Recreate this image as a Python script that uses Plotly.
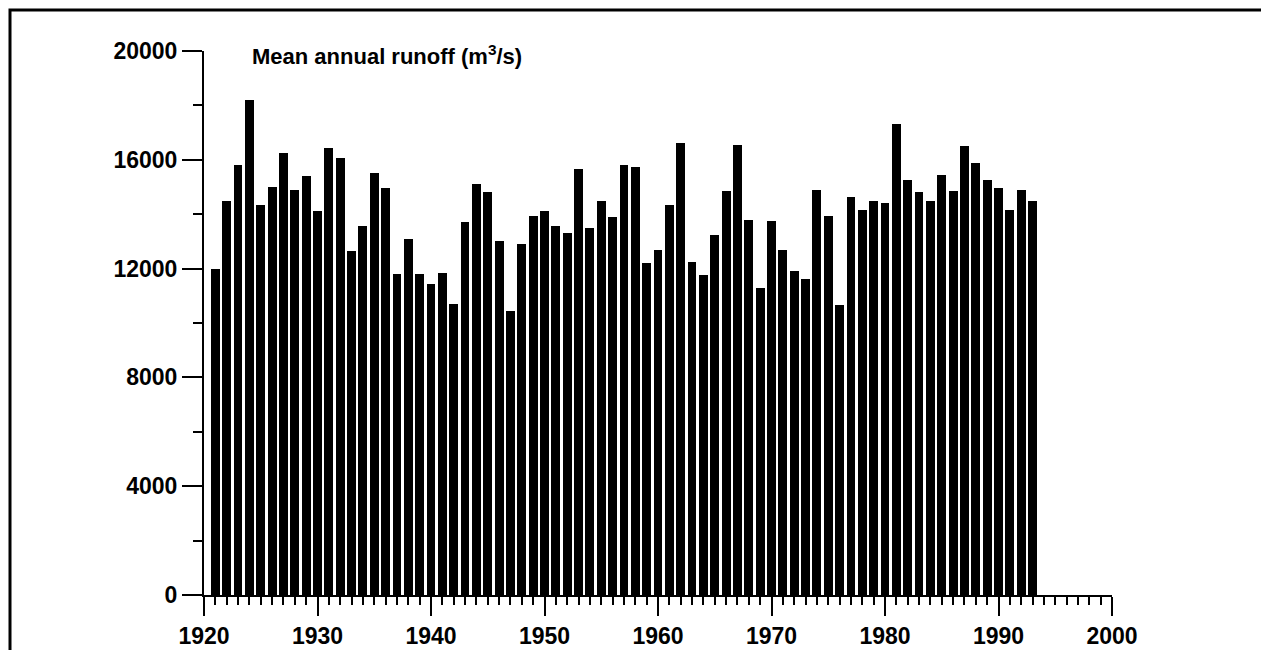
import plotly.graph_objects as go

# Mean annual runoff by year (m3/s)
years = list(range(1921, 1994))
runoff = [
    12000, 14500, 15800, 18200, 14350, 15000, 16250, 14900, 15400, 14100,  # 1921-1930
    16450, 16050, 12650, 13550, 15500, 14950, 11800, 13100, 11800, 11450,  # 1931-1940
    11850, 10700, 13700, 15100, 14800, 13000, 10450, 12900, 13950, 14100,  # 1941-1950
    13550, 13300, 15650, 13500, 14500, 13900, 15800, 15750, 12200, 12700,  # 1951-1960
    14350, 16600, 12250, 11750, 13250, 14850, 16550, 13800, 11300, 13750,  # 1961-1970
    12700, 11900, 11600, 14900, 13950, 10650, 14650, 14150, 14500, 14400,  # 1971-1980
    17300, 15250, 14800, 14500, 15450, 14850, 16500, 15900, 15250, 14950,  # 1981-1990
    14150, 14900, 14500,                                                   # 1991-1993
]

x_ticks = [1920, 1930, 1940, 1950, 1960, 1970, 1980, 1990, 2000]
y_ticks = [0, 4000, 8000, 12000, 16000, 20000]

FONT = "Liberation Sans, Arial, sans-serif"

fig = go.Figure()
fig.add_trace(go.Bar(
    x=years, y=runoff, width=0.78,
    marker=dict(color="#000000", line=dict(width=0)),
    showlegend=False,
))

fig.update_layout(
    width=1261, height=650,
    margin=dict(l=204, r=149, t=51, b=55, pad=0, autoexpand=False),
    paper_bgcolor="white", plot_bgcolor="white",
    bargap=0,
    font=dict(family=FONT, color="black"),
    xaxis=dict(
        range=[1920, 2000], tickmode="array", tickvals=x_ticks,
        ticktext=[f"<b>{v}</b>" for v in x_ticks],
        ticks="outside", ticklen=19, tickwidth=2, tickcolor="black",
        minor=dict(dtick=1, tick0=1920, ticks="outside", ticklen=8,
                   tickwidth=1.5, tickcolor="black", showgrid=False),
        showline=True, linecolor="black", linewidth=2,
        showgrid=False, zeroline=False, automargin=False,
        tickfont=dict(size=23, family=FONT, color="black"),
    ),
    yaxis=dict(
        range=[0, 20000], tickmode="array", tickvals=y_ticks,
        ticktext=[f"<b>{v}</b>" for v in y_ticks],
        ticks="outside", ticklen=20, tickwidth=2, tickcolor="black",
        minor=dict(dtick=2000, tick0=0, ticks="outside", ticklen=9,
                   tickwidth=1.5, tickcolor="black", showgrid=False),
        showline=True, linecolor="black", linewidth=2,
        showgrid=False, zeroline=False, automargin=False,
        tickfont=dict(size=23, family=FONT, color="black"),
    ),
    annotations=[dict(
        text="<b>Mean annual runoff (m<sup>3</sup>/s)</b>",
        xref="paper", yref="paper", x=0.051, y=0.992,
        xanchor="left", yanchor="middle", showarrow=False,
        font=dict(size=22, family=FONT, color="black"),
    )],
)

# Outer frame: a border whose right and bottom edges run past the page
plot_w = 1261 - 204 - 149
plot_h = 650 - 51 - 55
def px_x(p):
    return (p - 204) / plot_w
def px_y(p):
    return (595 - p) / plot_h

fig.add_shape(type="rect", xref="paper", yref="paper",
              x0=px_x(10), x1=px_x(1320), y0=px_y(10), y1=px_y(720),
              line=dict(color="black", width=3), fillcolor="rgba(0,0,0,0)",
              layer="below")

fig.write_html("out.html")
